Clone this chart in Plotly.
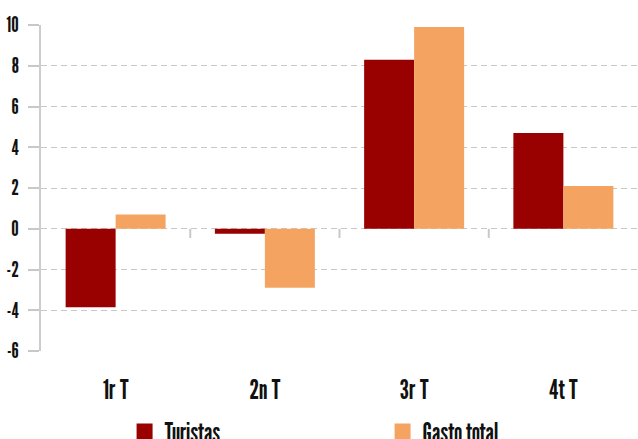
import plotly.graph_objects as go

categories = ["1r T", "2n T", "3r T", "4t T"]
turistas = [-3.85, -0.25, 8.3, 4.7]
gasto_total = [0.7, -2.9, 9.9, 2.1]
y_ticks = [-6, -4, -2, 0, 2, 4, 6, 8, 10]

RED = "#990000"
ORANGE = "#F4A460"
FONT = "League Gothic, Oswald, Archivo Narrow, Liberation Sans Narrow, sans-serif"

def f(size):
    return dict(size=size, family=FONT, color="#111111")

fig = go.Figure()
fig.add_trace(go.Bar(x=categories, y=turistas, name="Turistas", marker_color=RED,
                     marker_line_width=0, showlegend=False))
fig.add_trace(go.Bar(x=categories, y=gasto_total, name="Gasto total", marker_color=ORANGE,
                     marker_line_width=0, showlegend=False))
# legend entries with larger square symbols
for name, col in [("Turistas", RED), ("Gasto total", ORANGE)]:
    fig.add_trace(go.Scatter(x=[None], y=[None], mode="markers", name=name,
                             marker=dict(symbol="square", size=17, color=col)))

# small separators at the zero line between categories
for i in range(len(categories) - 1):
    fig.add_shape(type="line", xref="x", yref="y", x0=i + 0.5, x1=i + 0.5,
                  y0=0, y1=-0.45, line=dict(color="#c8c8c8", width=2))

fig.update_layout(
    width=638, height=439,
    margin=dict(l=41, r=0, t=25, b=88, autoexpand=False),
    paper_bgcolor="white", plot_bgcolor="white",
    barmode="group", bargap=0.33, bargroupgap=0,
    font=f(18),
    showlegend=True,
    legend=dict(orientation="h", x=0.14, xanchor="left", y=-0.175, yanchor="top",
                font=f(26),
                entrywidth=213, entrywidthmode="pixels", itemwidth=30,
                bgcolor="rgba(0,0,0,0)"),
    xaxis=dict(range=[-0.5, 3.5], showgrid=False, zeroline=False, showline=False,
               ticks="", tickfont=f(27),
               ticklabelstandoff=20),
    yaxis=dict(range=[-6, 10], tickvals=y_ticks, ticktext=[str(v) for v in y_ticks],
               showgrid=True, gridcolor="#c8c8c8", griddash="6px,4px", gridwidth=1,
               zeroline=False, showline=True, linecolor="#cccccc", linewidth=2,
               ticks="outside", ticklen=11, tickcolor="#c8c8c8", tickwidth=2,
               tickfont=f(21),
               ticklabelstandoff=5),
)

fig.write_html("out.html", config={"displayModeBar": False},
               post_script="document.body.style.margin='0';document.body.style.padding='0';")
